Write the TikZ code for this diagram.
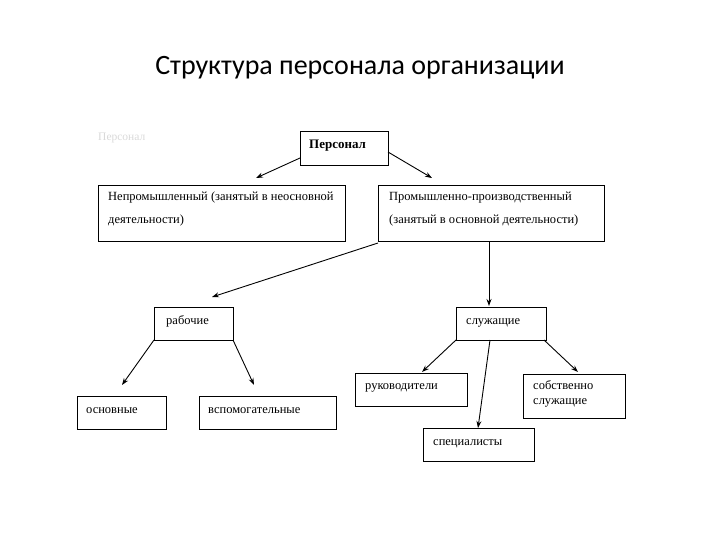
\documentclass[tikz,border=0pt]{standalone}
\usepackage{fontspec}
\setmainfont{Liberation Serif}
\newfontfamily\titlefont{Carlito}
\usetikzlibrary{arrows.meta}
\tikzset{
  box/.style={draw=black, line width=0.9pt, fill=white},
  lbl/.style={anchor=west, font=\fontsize{12.5}{14}\selectfont, inner sep=0pt, text height=6pt, text depth=2pt},
  conn/.style={draw=black, line width=0.9pt, -{Stealth[length=7pt,width=5pt]}}
}
\begin{document}
\begin{tikzpicture}[x=1pt,y=-1pt]
\useasboundingbox (0,0) rectangle (720,540);
\node[font=\titlefont\fontsize{28}{32}\selectfont] (title) at (360,68) {Структура персонала организации};
\node[lbl, text=black!15, font=\fontsize{11.5}{13}\selectfont] (ghost) at (98,139) {Персонал};
% boxes
\draw[box] (300,131) rectangle (388,165);
\node[lbl, font=\bfseries\fontsize{13}{15}\selectfont] (pers) at (309,147) {Персонал};
\coordinate (persL) at (300,158);
\coordinate (persR) at (388,152);

\draw[box] (98,185) rectangle (345,241);
\node[lbl] (np1) at (108,199) {Непромышленный (занятый в неосновной};
\node[lbl] (np2) at (108,221) {деятельности)};
\coordinate (npT) at (256,178);

\draw[box] (378,185) rectangle (604,241);
\node[lbl] (pp1) at (389,199) {Промышленно-производственный};
\node[lbl] (pp2) at (389,221) {(занятый в основной деятельности)};
\coordinate (ppT) at (432,178);
\coordinate (ppBL) at (378,243);
\coordinate (ppB) at (489,241);

\draw[box] (154,307) rectangle (233,340);
\node[lbl] (rab) at (166,322) {рабочие};
\coordinate (rabT) at (212,297);
\coordinate (rabBL) at (154,340);
\coordinate (rabBR) at (233,340);

\draw[box] (456,307) rectangle (546,340);
\node[lbl] (sl) at (466,322) {служащие};
\coordinate (slT) at (489,306);
\coordinate (slBL) at (456,340);
\coordinate (slBM) at (490,340);
\coordinate (slBR) at (544,340);

\draw[box] (77,396) rectangle (166,429);
\node[lbl] (osn) at (86,411) {основные};
\coordinate (osnT) at (122,385);

\draw[box] (199,396) rectangle (336,429);
\node[lbl] (vsp) at (208,411) {вспомогательные};
\coordinate (vspT) at (254,385);

\draw[box] (355,373) rectangle (467,406);
\node[lbl] (ruk) at (365,387) {руководители};
\coordinate (rukT) at (422,372);

\draw[box] (523,374) rectangle (625,418);
\node[lbl] (sob1) at (533,387) {собственно};
\node[lbl] (sob2) at (533,402) {служащие};
\coordinate (sobT) at (578,372);

\draw[box] (423,428) rectangle (534,461);
\node[lbl] (spec) at (433,443) {специалисты};
\coordinate (specT) at (478,428);

% connectors
\draw[conn] (persL) -- (npT);
\draw[conn] (persR) -- (ppT);
\draw[conn] (ppBL) -- (rabT);
\draw[conn] (ppB) -- (slT);
\draw[conn] (rabBL) -- (osnT);
\draw[conn] (rabBR) -- (vspT);
\draw[conn] (slBL) -- (rukT);
\draw[conn] (slBM) -- (specT);
\draw[conn] (slBR) -- (sobT);
\end{tikzpicture}
\end{document}
